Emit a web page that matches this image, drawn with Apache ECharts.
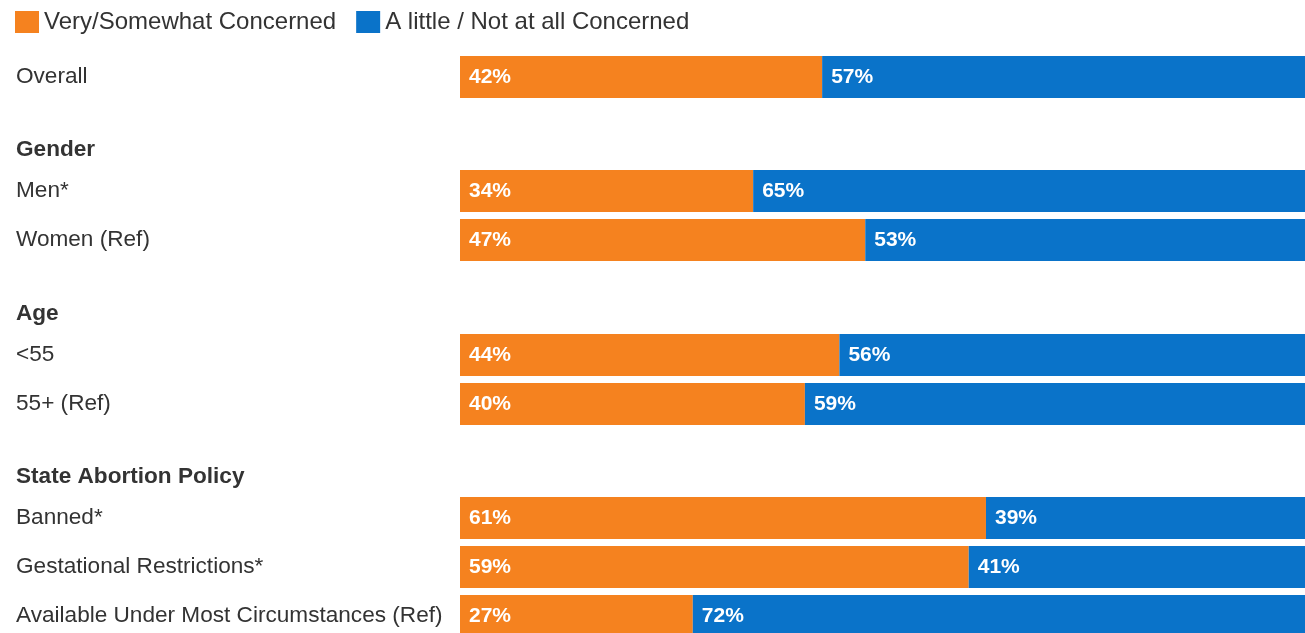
<!DOCTYPE html>
<html>
<head>
<meta charset="utf-8">
<script src="https://cdn.jsdelivr.net/npm/echarts@6/dist/echarts.min.js"></script>
<style>
html,body{margin:0;padding:0;background:#fff;overflow:hidden;}
#chart{width:1305px;height:660px;}
</style>
</head>
<body>
<div id="chart"></div>
<script>
// ---- data ----
const seriesNames = ['Very/Somewhat Concerned', 'A little / Not at all Concerned'];
const groupHeaders = ['', 'Gender', 'Age', 'State Abortion Policy'];
const overallCats = ['Overall'];
const overallConcerned = [42];
const overallNot = [57];
const genderCats = ['Men*', 'Women (Ref)'];
const genderConcerned = [34, 47];
const genderNot = [65, 53];
const ageCats = ['<55', '55+ (Ref)'];
const ageConcerned = [44, 40];
const ageNot = [56, 59];
const policyCats = ['Banned*', 'Gestational Restrictions*', 'Available Under Most Circumstances (Ref)'];
const policyConcerned = [61, 59, 27];
const policyNot = [39, 41, 72];

// ---- layout ----
const colors = ['#F5821F', '#0A73C9'];
const font = '"Liberation Sans", Arial, sans-serif';
const groups = [
  {cats: overallCats, a: overallConcerned, b: overallNot, top: 52.5},
  {cats: genderCats, a: genderConcerned, b: genderNot, top: 166.5},
  {cats: ageCats, a: ageConcerned, b: ageNot, top: 330.5},
  {cats: policyCats, a: policyConcerned, b: policyNot, top: 493.5}
];
const slot = 49;

const grid = [], xAxis = [], yAxis = [], series = [];
groups.forEach((g, i) => {
  grid.push({left: 460, right: 0, top: g.top, height: slot * g.cats.length, containLabel: false});
  xAxis.push({type: 'value', gridIndex: i, min: 0, max: 98, show: false});
  yAxis.push({
    type: 'category', gridIndex: i, data: g.cats, inverse: true,
    offset: 444,
    axisLine: {show: false}, axisTick: {show: false}, splitLine: {show: false},
    axisLabel: {inside: true, margin: 0, align: 'left', fontSize: 22.6, color: '#333', fontFamily: font},
    name: groupHeaders[i], nameLocation: 'start', nameGap: 16.5,
    nameTextStyle: {align: 'left', verticalAlign: 'middle', fontSize: 22.6, fontWeight: 'bold', color: '#333', fontFamily: font, padding: [0, 0, 0, -444]}
  });
  [g.a, g.b].forEach((vals, k) => {
    series.push({
      type: 'bar', name: seriesNames[k], xAxisIndex: i, yAxisIndex: i,
      stack: 'g' + i, data: vals, barWidth: 42,
      itemStyle: {color: colors[k]},
      label: {show: true, position: 'insideLeft', distance: 9, formatter: '{c}%', color: '#fff', fontSize: 21, fontWeight: 'bold', fontFamily: font},
      animation: false
    });
  });
});

const chart = echarts.init(document.getElementById('chart'));
chart.setOption({
  animation: false,
  color: colors,
  legend: {
    left: 15, top: 10, padding: 0, itemWidth: 24, itemHeight: 22, itemGap: 20, icon: 'rect',
    data: seriesNames,
    textStyle: {fontSize: 24, color: '#333', fontFamily: font}
  },
  grid, xAxis, yAxis, series
});
</script>
</body>
</html>
